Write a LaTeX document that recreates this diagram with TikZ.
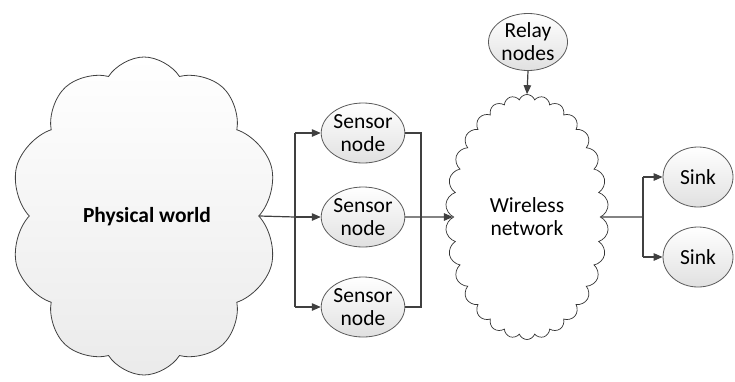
\documentclass[tikz,border=0pt]{standalone}
\usepackage{fontspec}
\setmainfont{Carlito}
\usetikzlibrary{shapes.geometric,shapes.symbols,arrows.meta}
\definecolor{lin}{HTML}{404040}
\definecolor{edg}{HTML}{5A5A5A}
\tikzset{
  conn/.style={draw=lin, line width=1.2pt},
  arr/.style={conn, -{Triangle[length=9pt,width=7.5pt]}},
  oval/.style={ellipse, draw=edg, line width=0.8pt, top color=white, bottom color=black!12,
     inner sep=0pt, align=center, font=\fontsize{21.5}{23}\selectfont},
  bigcloud/.style={cloud, cloud puffs=10, cloud puff arc=115, cloud ignores aspect,
     draw=black!75, line width=0.8pt, top color=white, bottom color=black!8,
     minimum width=268pt, minimum height=318pt, inner sep=0pt},
  smallcloud/.style={cloud, cloud puffs=30, cloud puff arc=140, cloud ignores aspect,
     draw=black!80, line width=0.7pt, fill=white,
     minimum width=163pt, minimum height=245pt, inner sep=0pt, align=center,
     font=\fontsize{21.5}{23}\selectfont}
}
\begin{document}
\begin{tikzpicture}[x=1pt,y=-1pt]
\useasboundingbox (0,0) rectangle (735,381);
\node[bigcloud] (pw) at (144,216) {};
\node[font=\fontsize{21.5}{23}\selectfont\bfseries] (pwt) at (147,217) {Physical world};
\node[oval, minimum width=80pt, minimum height=60pt] (s1) at (363,133) {Sensor\\node};
\node[oval, minimum width=80pt, minimum height=60pt] (s2) at (363,217) {Sensor\\node};
\node[oval, minimum width=80pt, minimum height=60pt] (s3) at (363,307) {Sensor\\node};
\node[smallcloud] (wn) at (527,217) {Wireless\\network};
\node[oval, minimum width=79pt, minimum height=57pt] (relay) at (528,42) {Relay\\nodes};
\node[oval, minimum width=70pt, minimum height=60pt] (k1) at (698,177) {Sink};
\node[oval, minimum width=70pt, minimum height=60pt] (k2) at (698,257) {Sink};
\coordinate (jl) at (295,217);
\coordinate (jr) at (421,217);
\coordinate (jk) at (643,217);
\draw[conn] (pw.east) -- (jl);
\draw[conn] (jl |- s1.west) -- (jl |- s3.west);
\draw[arr] (jl |- s1.west) -- (s1.west);
\draw[arr] (jl) -- (s2.west);
\draw[arr] (jl |- s3.west) -- (s3.west);
\draw[conn] (s1.east) -- (jr |- s1.east) -- (jr |- s3.east) -- (s3.east);
\draw[arr] (s2.east) -- (wn.west);
\draw[arr] (relay.south) -- (wn.north);
\draw[conn] (wn.east) -- (jk);
\draw[conn] (jk |- k1.west) -- (jk |- k2.west);
\draw[arr] (jk |- k1.west) -- (k1.west);
\draw[arr] (jk |- k2.west) -- (k2.west);
\end{tikzpicture}
\end{document}
